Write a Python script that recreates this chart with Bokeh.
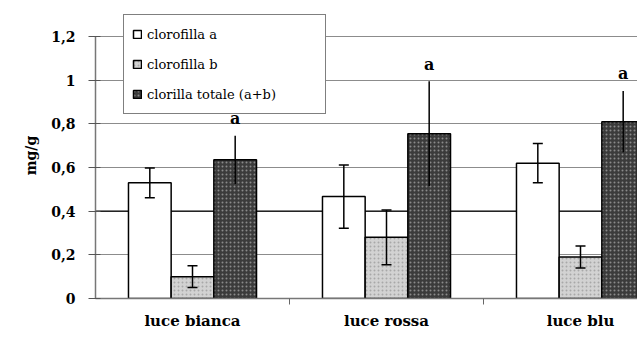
from bokeh.plotting import figure
from bokeh.models import (ColumnDataSource, Range1d, FixedTicker, Whisker, TeeHead,
                          Legend, LegendItem, Span, CustomJSTickFormatter)
from bokeh.core.properties import value
from bokeh.embed import file_html
from bokeh.resources import INLINE

# ---- data -------------------------------------------------------------
categories = ["luce bianca", "luce rossa", "luce blu"]
series = ["clorofilla a", "clorofilla b", "clorilla totale (a+b)"]
clor_a = [0.53, 0.467, 0.62]
clor_a_err = [0.068, 0.145, 0.09]
clor_b = [0.10, 0.28, 0.19]
clor_b_err = [0.05, 0.125, 0.05]
clor_tot = [0.635, 0.755, 0.81]
clor_tot_err = [0.11, 0.24, 0.14]
sig_labels = ["a", "a", "a"]
y_ticks = [0, 0.2, 0.4, 0.6, 0.8, 1.0, 1.2]

# ---- styles -----------------------------------------------------------
SERIF = "DejaVu Serif"
offsets = [-0.22, 0.0, 0.22]
bar_w = 0.22
fills = ["#ffffff", "#d2d2d2", "#3b3b3b"]
hatch_cols = [None, "#a8a8a8", "#8a8a8a"]

p = figure(width=637, height=339, output_backend="svg", toolbar_location=None,
           x_range=Range1d(0, 542 / 194), y_range=Range1d(0, 1.31),
           min_border_left=95, min_border_right=0, min_border_top=12,
           min_border_bottom=41)
p.outline_line_color = None
p.xgrid.grid_line_color = None
p.ygrid.grid_line_color = "#8c8c8c"
p.ygrid.grid_line_width = 1

ref = Span(location=y_ticks[2], dimension="width", line_color="black",
           line_width=1.3, level="underlay")
p.add_layout(ref)

vals = [clor_a, clor_b, clor_tot]
errs = [clor_a_err, clor_b_err, clor_tot_err]
legend_items = []
for k in range(3):
    xs = [i + 0.5 + offsets[k] for i in range(len(categories))]
    src = ColumnDataSource(dict(
        x=xs, top=vals[k],
        upper=[v + e for v, e in zip(vals[k], errs[k])],
        lower=[v - e for v, e in zip(vals[k], errs[k])],
    ))
    kw = {}
    if hatch_cols[k]:
        kw = dict(hatch_pattern=".", hatch_color=hatch_cols[k], hatch_scale=4, hatch_weight=1)
    bars = p.vbar(x="x", top="top", width=bar_w, source=src, fill_color=fills[k],
                  line_color="black", line_width=1.5, **kw)
    if k < 2:
        w = Whisker(source=src, base="x", upper="upper", lower="lower",
                    line_color="black", line_width=1.5, level="overlay",
                    upper_head=TeeHead(size=10, line_color="black", line_width=1.5),
                    lower_head=TeeHead(size=10, line_color="black", line_width=1.5))
    else:
        w = Whisker(source=src, base="x", upper="upper", lower="lower",
                    line_color="black", line_width=1.5, level="overlay",
                    upper_head=None, lower_head=None)
        lab_src = ColumnDataSource(dict(
            x=xs, y=[u + 0.035 for u in src.data["upper"]], t=sig_labels))
        p.text(x="x", y="y", text="t", source=lab_src, text_align="center",
               text_baseline="bottom", text_font=value(SERIF),
               text_font_style="bold", text_font_size="16px", text_color="black")
    p.add_layout(w)
    legend_items.append(LegendItem(label=series[k], renderers=[bars]))

legend = Legend(items=legend_items, location=(28, 184), padding=8, spacing=8,
                label_height=22, glyph_height=10, glyph_width=10, label_standoff=5,
                label_width=170,
                border_line_color="black", border_line_width=1,
                background_fill_color="white", background_fill_alpha=1,
                label_text_font=SERIF, label_text_font_size="13px",
                label_text_color="black")
p.add_layout(legend)

# x axis
p.xaxis.ticker = FixedTicker(ticks=[i + 0.5 for i in range(len(categories))],
                             minor_ticks=[1, 2])
p.xaxis.major_label_overrides = {i + 0.5: c for i, c in enumerate(categories)}
p.xaxis.major_tick_out = 0
p.xaxis.major_tick_in = 0
p.xaxis.minor_tick_out = 6
p.xaxis.minor_tick_in = 0
p.xaxis.minor_tick_line_color = "#666666"
p.xaxis.axis_line_color = "#777777"
p.xaxis.axis_line_width = 1.5
p.xaxis.major_label_standoff = 7
p.xaxis.major_label_text_font = SERIF
p.xaxis.major_label_text_font_style = "bold"
p.xaxis.major_label_text_font_size = "15px"
p.xaxis.major_label_text_color = "black"

# y axis
p.yaxis.ticker = FixedTicker(ticks=y_ticks, minor_ticks=[])
p.yaxis.bounds = (y_ticks[0], y_ticks[-1])
p.yaxis.formatter = CustomJSTickFormatter(
    code="return tick.toFixed(1).replace('.0','').replace('.',',');")
p.yaxis.major_tick_in = 5
p.yaxis.major_tick_out = 7
p.yaxis.major_tick_line_color = "#555555"
p.yaxis.axis_line_color = "#777777"
p.yaxis.axis_line_width = 1.5
p.yaxis.major_label_standoff = 13
p.yaxis.major_label_text_font = SERIF
p.yaxis.major_label_text_font_style = "bold"
p.yaxis.major_label_text_font_size = "14px"
p.yaxis.major_label_text_color = "black"
p.yaxis.axis_label = "mg/g"
p.yaxis.axis_label_standoff = 9
p.yaxis.axis_label_text_font = SERIF
p.yaxis.axis_label_text_font_style = "bold"
p.yaxis.axis_label_text_font_size = "14px"
p.yaxis.axis_label_text_color = "black"

open("out.html", "w").write(file_html(p, INLINE))
